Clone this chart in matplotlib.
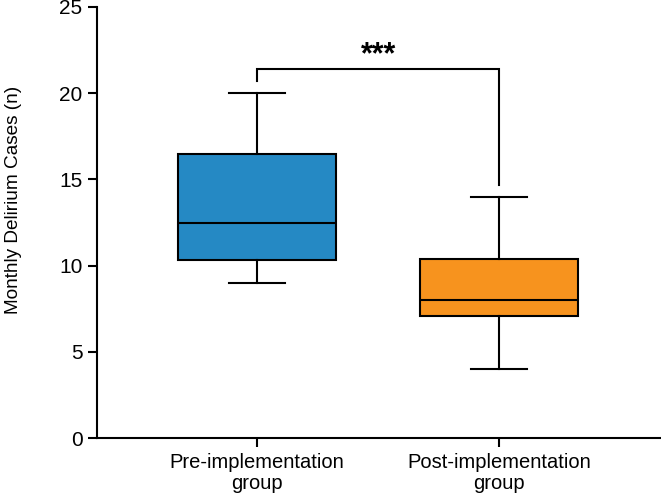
import matplotlib.pyplot as plt

plt.rcParams['font.family'] = ['Liberation Sans', 'DejaVu Sans']

# box statistics
groups = ['Pre-implementation\ngroup', 'Post-implementation\ngroup']
whislo = [9, 4]
q1 = [10.3, 7.05]
med = [12.5, 8.0]
q3 = [16.45, 10.4]
whishi = [20, 14]
colors = ['#2589C4', '#F7931E']

stats = []
for i in range(len(groups)):
    stats.append(dict(label=groups[i], whislo=whislo[i], q1=q1[i], med=med[i],
                      q3=q3[i], whishi=whishi[i], fliers=[]))

fig = plt.figure(figsize=(6.61, 4.95), dpi=100)
ax = fig.add_axes([0.146, 0.115, 0.852, 0.871])

lw = 1.5
bp = ax.bxp(stats, positions=[1, 2], widths=0.655, patch_artist=True,
            showfliers=False, capwidths=0.23,
            boxprops=dict(linewidth=lw, edgecolor='black'),
            medianprops=dict(color='black', linewidth=lw),
            whiskerprops=dict(color='black', linewidth=lw),
            capprops=dict(color='black', linewidth=lw))
for patch, c in zip(bp['boxes'], colors):
    patch.set_facecolor(c)

# significance bracket
ax.plot([1, 1, 2, 2], [20.7, 21.4, 21.4, 14.7], color='black', linewidth=lw,
        solid_joinstyle='miter')
ax.text(1.5, 21.73, '***', ha='center', va='baseline', fontsize=22, fontweight='bold')

ax.set_xlim(0.335, 2.665)
ax.set_ylim(0, 25)
ax.set_yticks([0, 5, 10, 15, 20, 25])
ax.set_ylabel('Monthly Delirium Cases (n)', fontsize=13.7)
ax.yaxis.set_label_coords(-0.133, 0.553)

for s in ['top', 'right']:
    ax.spines[s].set_visible(False)
for s in ['left', 'bottom']:
    ax.spines[s].set_linewidth(lw)
ax.tick_params(axis='both', length=6.5, width=lw, labelsize=15)
ax.tick_params(axis='x', pad=4, labelsize=14.5)
for lab in ax.get_xticklabels():
    lab.set_linespacing(1.15)

fig.savefig('out.png', dpi=100)
